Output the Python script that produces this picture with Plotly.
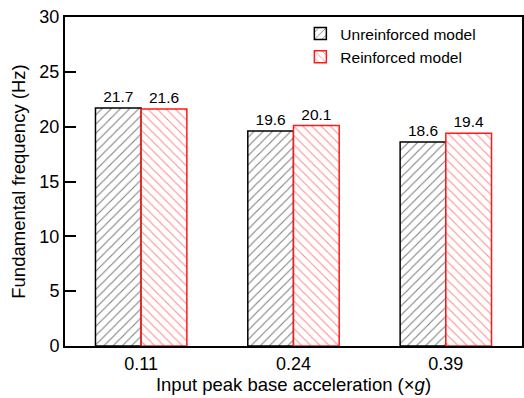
import plotly.graph_objects as go

# Input peak base acceleration levels (x g)
accel_levels = ["0.11", "0.24", "0.39"]
# Fundamental frequency (Hz)
unreinforced_freq = [21.7, 19.6, 18.6]
reinforced_freq = [21.6, 20.1, 19.4]

font_family = "Liberation Sans, Arial, sans-serif"

fig = go.Figure()
fig.add_trace(go.Bar(
    x=accel_levels, y=unreinforced_freq, name="Unreinforced model",
    text=[f"{v:.1f}" for v in unreinforced_freq], textposition="outside",
    textfont=dict(size=15.5, color="black", family=font_family),
    marker=dict(color="white", line=dict(color="black", width=1.5),
                pattern=dict(shape="/", fgcolor="black", bgcolor="white",
                             size=6.5, solidity=0.17)),
    cliponaxis=False,
))
fig.add_trace(go.Bar(
    x=accel_levels, y=reinforced_freq, name="Reinforced model",
    text=[f"{v:.1f}" for v in reinforced_freq], textposition="outside",
    textfont=dict(size=15.5, color="black", family=font_family),
    marker=dict(color="white", line=dict(color="#ff1a1a", width=1.5),
                pattern=dict(shape="\\", fgcolor="#ff1a1a", bgcolor="white",
                             size=6.5, solidity=0.17)),
    cliponaxis=False,
))

fig.update_layout(
    width=524, height=398,
    margin=dict(l=65, r=0, t=17, b=52),
    paper_bgcolor="white", plot_bgcolor="white",
    font=dict(family=font_family, size=18, color="black"),
    barmode="group", bargap=0.4, bargroupgap=0,
    showlegend=True,
    legend=dict(x=0.515, y=1.0, xanchor="left", yanchor="top",
                bgcolor="rgba(0,0,0,0)", font=dict(size=15.5),
                itemwidth=30, tracegroupgap=2),
    xaxis=dict(
        range=[-0.5, 2.5], showline=True, linecolor="black", linewidth=2,
        mirror=True, ticks="", showgrid=False, zeroline=False,
        tickfont=dict(size=18),
        title=dict(text="Input peak base acceleration (×<i>g</i>)",
                   font=dict(size=18.5), standoff=4),
    ),
    yaxis=dict(
        range=[0, 30], dtick=5, showline=True, linecolor="black", linewidth=2,
        mirror=True, ticks="inside", ticklen=11, tickwidth=1.5, tickcolor="black",
        showgrid=False, zeroline=False, tickfont=dict(size=18),
        title=dict(text="Fundamental frequency (Hz)", font=dict(size=18.5),
                   standoff=9),
    ),
)

fig.write_html("out.html")
